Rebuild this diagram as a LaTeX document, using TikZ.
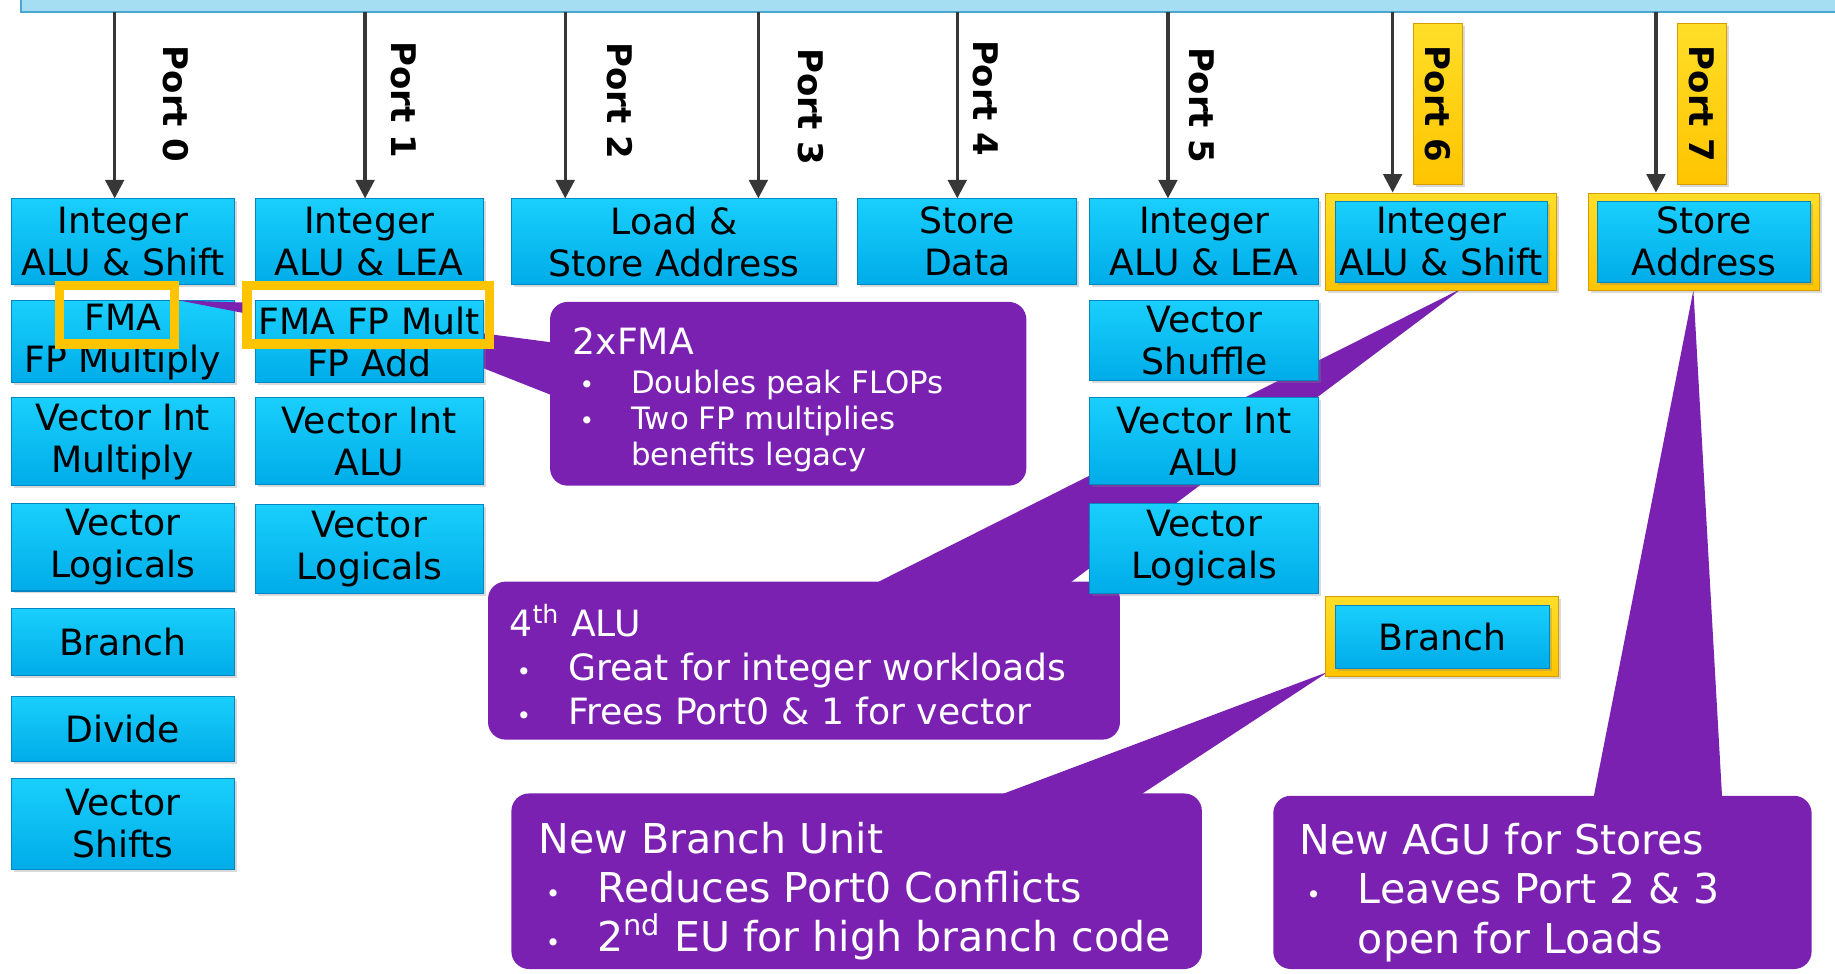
\documentclass[tikz,border=0pt]{standalone}
\usepackage{fontspec}
\setmainfont{DejaVu Sans}
\usetikzlibrary{arrows.meta,shadows}

\newlength\px
\setlength\px{0.02cm}

\definecolor{unittop}{RGB}{25,207,252}
\definecolor{unitbot}{RGB}{0,172,232}
\definecolor{unitline}{RGB}{0,135,195}
\definecolor{gold}{RGB}{255,196,0}
\definecolor{goldtop}{RGB}{255,222,40}
\definecolor{goldline}{RGB}{215,155,0}
\definecolor{notepurple}{RGB}{122,33,178}
\definecolor{busfill}{RGB}{165,222,242}
\definecolor{busline}{RGB}{75,165,205}
\definecolor{portgray}{RGB}{55,55,55}

\newcommand\bul{\makebox[50\px][l]{\hspace{6\px}{\fontsize{12}{12}\selectfont\textbullet}}}

\tikzset{
  cell/.style args={#1/#2/#3/#4}{minimum width={(#3-#1)*\px}, minimum height={(#4-#2)*\px},
    at={({(#1+#3)/2},{(#2+#4)/2})}},
  fubox/.style={draw=unitline, line width=.5pt, top color=unittop, bottom color=unitbot,
    inner sep=0pt, align=center, font=\fontsize{17.6}{20.5}\selectfont,
    drop shadow={shadow xshift=1.2pt, shadow yshift=-1.2pt, opacity=.3}},
  goldframe/.style={draw=goldline, line width=.5pt, top color=goldtop, bottom color=gold,
    inner sep=0pt, drop shadow={shadow xshift=1.2pt, shadow yshift=-1.2pt, opacity=.3}},
  hilite/.style={draw=gold, line width=4.5pt, inner sep=0pt},
  portarrow/.style={draw=portgray, line width=1.7pt, -{Triangle[width=9pt,length=9pt]}},
  portlbl/.style={rotate=-90, inner sep=0pt, font=\bfseries\fontsize{16.5}{18}\selectfont},
  bus/.style={fill=busfill, draw=busline, line width=1pt, inner sep=0pt},
  note/.style={fill=notepurple},
  notebox/.style={note, rounded corners=.3cm, inner sep=0pt},
  notetext/.style={text=white, align=left, inner sep=0pt, anchor=north west},
}

\begin{document}
\begin{tikzpicture}[x=\px, y=-\px]
  \useasboundingbox (0,0) rectangle (1568,832);
  \clip (0,0) rectangle (1568,832);

  \node[bus, cell=18/-40/1620/10] (bus) {};

  % callouts first, the units cover their tails
  \fill[note] (300,270) -- (490,295) -- (490,345) -- cycle;
  \node[notebox, cell=470/258/877/415] (fmanote) {};
  \fill[note] (1250,246) -- (905,505) -- (735,505) -- cycle;
  \node[notebox, cell=417/497/957/632] (alunote) {};
  \fill[note] (1135,574) -- (958,690) -- (826,690) -- cycle;
  \node[notebox, cell=437/678/1027/828] (brnote) {};
  \fill[note] (1447,248) -- (1472,690) -- (1360,690) -- cycle;
  \node[notebox, cell=1088/680/1548/828] (agunote) {};

  % port 0
  \node[fubox, cell=10/170/200/243] (u0a) {Integer\\ALU \& Shift};
  \node[fubox, cell=10/257/200/327] (u0b) {FMA\\FP Multiply};
  \node[fubox, cell=10/340/200/415] (u0c) {Vector Int\\Multiply};
  \node[fubox, cell=10/430/200/505] (u0d) {Vector\\Logicals};
  \node[fubox, cell=10/520/200/577] (u0e) {Branch};
  \node[fubox, cell=10/595/200/651] (u0f) {Divide};
  \node[fubox, cell=10/665/200/743] (u0g) {Vector\\Shifts};
  % port 1
  \node[fubox, cell=218/170/413/243] (u1a) {Integer\\ALU \& LEA};
  \node[fubox, cell=218/257/413/327] (u1b) {FMA FP Mult\\FP Add};
  \node[fubox, cell=218/340/413/414] (u1c) {Vector Int\\ALU};
  \node[fubox, cell=218/431/413/507] (u1d) {Vector\\Logicals};
  % ports 2-4
  \node[fubox, cell=437/170/715/243] (u2) {Load \&\\Store Address};
  \node[fubox, cell=733/170/920/243] (u4) {Store\\Data};
  % port 5
  \node[fubox, cell=931/170/1127/243] (u5a) {Integer\\ALU \& LEA};
  \node[fubox, cell=931/257/1127/325] (u5b) {Vector\\Shuffle};
  \node[fubox, cell=931/340/1127/414] (u5c) {Vector Int\\ALU};
  \node[fubox, cell=931/430/1127/507] (u5d) {Vector\\Logicals};
  % ports 6 and 7 (new)
  \node[goldframe, cell=1133/165/1330/248] (f6) {};
  \node[fubox, cell=1141/172/1322/241] (u6a) {Integer\\ALU \& Shift};
  \node[goldframe, cell=1133/510/1332/578] (f6b) {};
  \node[fubox, cell=1141/517/1324/571] (u6b) {Branch};
  \node[goldframe, cell=1357/165/1555/248] (f7) {};
  \node[fubox, cell=1365/172/1547/241] (u7) {Store\\Address};

  \node[hilite, cell=51/244/149/294] (fma0) {};
  \node[hilite, cell=211/244/418/294] (fma1) {};
  \fill[note] ([yshift=7pt]fma0.east) -- ([yshift=6pt]fma1.west) -- ([yshift=1pt]fma1.west) -- cycle;

  \node[goldframe, cell=1208/20/1250/158] (tag6) {};
  \node[goldframe, cell=1433/20/1475/158] (tag7) {};

  \foreach \n/\x/\b in {0/98/u0a, 1/312/u1a, 2/483/u2, 3/648/u2, 4/818/u4, 5/998/u5a, 6/1190/f6, 7/1415/f7} {
    \coordinate (s\n) at (\x,10);
    \draw[portarrow] (s\n) -- (s\n |- \b.north);
  }
  \foreach \n/\x/\y in {0/150/89, 1/345/85, 2/530/86, 3/693/91, 4/842/84, 5/1027/90, 6/1229/89, 7/1454/89}
    \node[portlbl] (p\n) at (\x,\y) {Port \n};

  \node[notetext, font=\fontsize{15}{17.6}\selectfont] (fmatext) at (489,280)
    {{\fontsize{17.6}{17.6}\selectfont 2xFMA}\\[1pt]
     \bul Doubles peak FLOPs\\ \bul Two FP multiplies\\ \hspace*{50\px}benefits legacy};
  \node[notetext, font=\fontsize{17.6}{21.3}\selectfont] (alutext) at (435,516)
    {4\textsuperscript{th} ALU\\ \bul Great for integer workloads\\ \bul Frees Port0 \& 1 for vector};
  \node[notetext, font=\fontsize{20}{23.8}\selectfont] (brtext) at (460,702)
    {New Branch Unit\\ \bul Reduces Port0 Conflicts\\ \bul 2\textsuperscript{nd} EU for high branch code};
  \node[notetext, font=\fontsize{20}{24}\selectfont] (agutext) at (1110,703)
    {New AGU for Stores\\ \bul Leaves Port 2 \& 3\\ \hspace*{50\px}open for Loads};
\end{tikzpicture}
\end{document}
